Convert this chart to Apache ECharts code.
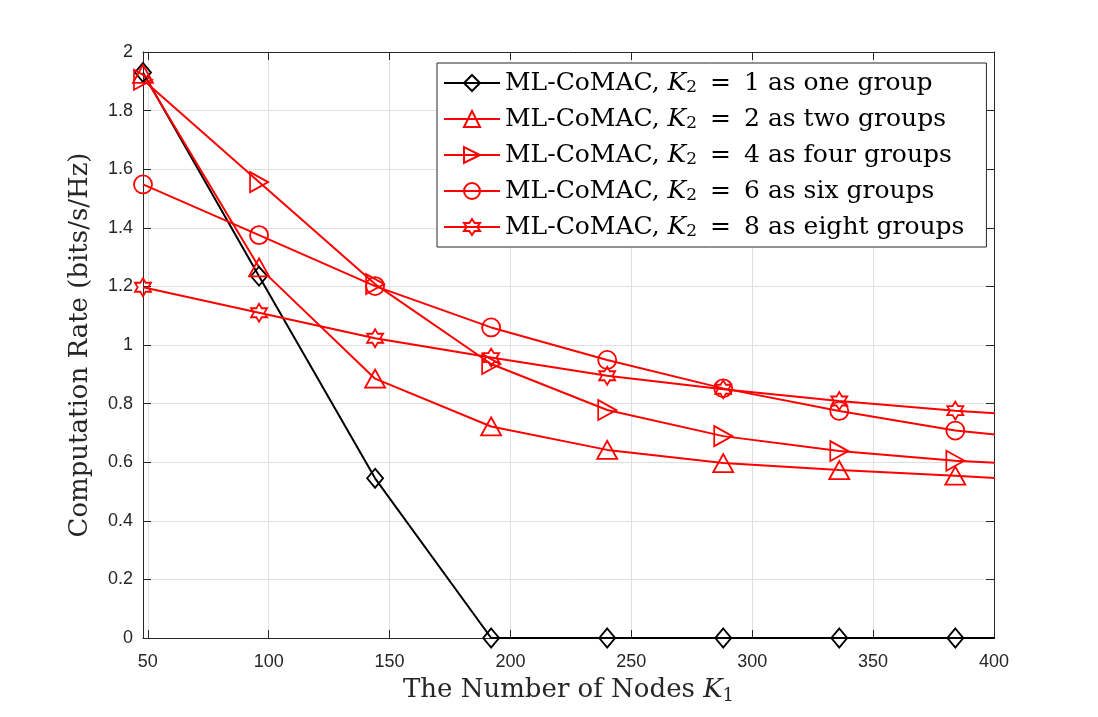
<!DOCTYPE html>
<html>
<head>
<meta charset="utf-8">
<script src="https://cdn.jsdelivr.net/npm/echarts@6/dist/echarts.min.js"></script>
<style>
html,body{margin:0;padding:0;background:#fff;}
#chart{width:1098px;height:717px;}
</style>
</head>
<body>
<div id="chart"></div>
<script>
// Data
const nodesK1 = [48, 96, 144, 192, 240, 288, 336, 384, 432];
const rateK2_1 = [1.93, 1.235, 0.545, 0, 0, 0, 0, 0, 0];
const rateK2_2 = [1.925, 1.265, 0.885, 0.722, 0.642, 0.597, 0.573, 0.554, 0.53];
const rateK2_4 = [1.905, 1.556, 1.208, 0.935, 0.778, 0.689, 0.638, 0.605, 0.584];
const rateK2_6 = [1.548, 1.375, 1.201, 1.06, 0.949, 0.852, 0.775, 0.708, 0.669];
const rateK2_8 = [1.197, 1.11, 1.023, 0.957, 0.895, 0.849, 0.809, 0.776, 0.749];
const xTickValues = [50, 100, 150, 200, 250, 300, 350, 400];
const seriesNames = [
  'ML-CoMAC, {i|K}{sub|2}{eq|=}1 as one group',
  'ML-CoMAC, {i|K}{sub|2}{eq|=}2 as two groups',
  'ML-CoMAC, {i|K}{sub|2}{eq|=}4 as four groups',
  'ML-CoMAC, {i|K}{sub|2}{eq|=}6 as six groups',
  'ML-CoMAC, {i|K}{sub|2}{eq|=}8 as eight groups'
];
const legendLabels = [
  'ML-CoMAC, K2 = 1 as one group',
  'ML-CoMAC, K2 = 2 as two groups',
  'ML-CoMAC, K2 = 4 as four groups',
  'ML-CoMAC, K2 = 6 as six groups',
  'ML-CoMAC, K2 = 8 as eight groups'
];

const hexagram = 'path://M50,0 L35.6,25 L6.7,25 L21.1,50 L6.7,75 L35.6,75 L50,100 L64.4,75 L93.3,75 L78.9,50 L93.3,25 L64.4,25 Z';
const AX = '#262626';
const serif = '"DejaVu Serif", "Liberation Serif", serif';
const sans = '"Liberation Sans", Arial, sans-serif';

function pairs(ys){ return nodesK1.map((x,i)=>[x, ys[i]]); }

function mkSeries(idx, ys, color, symbol, size, rotate){
  return {
    name: legendLabels[idx],
    type: 'line',
    data: pairs(ys),
    symbol: symbol,
    symbolSize: size,
    symbolRotate: rotate || 0,
    showAllSymbol: true,
    clip: true,
    lineStyle: {color: color, width: 2},
    itemStyle: {color: 'rgba(255,255,255,0)', borderColor: color, borderWidth: 1.8},
    emphasis: {disabled: true},
    animation: false
  };
}

const chart = echarts.init(document.getElementById('chart'), null, {renderer: 'canvas'});
const option = {
  backgroundColor: '#ffffff',
  animation: false,
  grid: {left: 143, right: 104, top: 52, bottom: 79, containLabel: false},
  legend: {
    orient: 'vertical',
    left: 437, top: 63,
    padding: [7, 22, 7, 6],
    backgroundColor: '#ffffff',
    borderColor: '#262626',
    borderWidth: 1,
    itemWidth: 56, itemHeight: 20, itemGap: 10,
    inactiveColor: '#000',
    selectedMode: false,
    data: legendLabels,
    lineStyle: {width: 2},
    formatter: function(name){ return seriesNames[legendLabels.indexOf(name)]; },
    textStyle: {
      fontFamily: serif, fontSize: 25, color: '#000', lineHeight: 26,
      rich: {
        i: {fontFamily: serif, fontStyle: 'italic', fontSize: 25, color: '#000', lineHeight: 26},
        sub: {fontFamily: serif, fontSize: 17, color: '#000', verticalAlign: 'bottom', lineHeight: 18, padding: [8,0,0,0]},
        eq: {fontFamily: serif, fontSize: 25, color: '#000', lineHeight: 26, padding: [0, 13, 0, 13]}
      }
    }
  },
  xAxis: [{
    type: 'value', min: 48, max: 400, position: 'bottom',
    name: 'The Number of Nodes {i|K}{sub|1}',
    nameLocation: 'middle', nameGap: 37,
    nameTextStyle: {fontFamily: serif, fontSize: 26, color: '#262626',
      rich: {i: {fontFamily: serif, fontStyle: 'italic', fontSize: 26, color: '#262626'},
             sub: {fontFamily: serif, fontSize: 18, color: '#262626', padding: [12,0,0,0]}}},
    axisLine: {show: true, onZero: false, lineStyle: {color: AX, width: 1}},
    axisTick: {show: true, inside: true, length: 8, customValues: xTickValues, lineStyle: {color: AX}},
    axisLabel: {customValues: xTickValues, fontFamily: sans, fontSize: 18, color: AX, margin: 15},
    splitLine: {show: true, lineStyle: {color: '#dfdfdf', width: 1}}
  }, {
    type: 'value', min: 48, max: 400, position: 'top',
    axisLine: {show: true, onZero: false, lineStyle: {color: AX, width: 1}},
    axisTick: {show: true, inside: true, length: 8, customValues: xTickValues, lineStyle: {color: AX}},
    axisLabel: {show: false},
    splitLine: {show: false}
  }],
  yAxis: [{
    type: 'value', min: 0, max: 2, interval: 0.2, position: 'left',
    name: 'Computation Rate (bits/s/Hz)',
    nameLocation: 'middle', nameGap: 50,
    nameTextStyle: {fontFamily: serif, fontSize: 26, color: '#262626'},
    axisLine: {show: true, onZero: false, lineStyle: {color: AX, width: 1}},
    axisTick: {show: true, inside: true, length: 8, lineStyle: {color: AX}},
    axisLabel: {fontFamily: sans, fontSize: 18, color: AX, margin: 10},
    splitLine: {show: true, lineStyle: {color: '#dfdfdf', width: 1}}
  }, {
    type: 'value', min: 0, max: 2, interval: 0.2, position: 'right',
    axisLine: {show: true, onZero: false, lineStyle: {color: AX, width: 1}},
    axisTick: {show: true, inside: true, length: 8, lineStyle: {color: AX}},
    axisLabel: {show: false},
    splitLine: {show: false}
  }],
  series: [
    mkSeries(0, rateK2_1, '#000000', 'diamond', [16, 19]),
    mkSeries(1, rateK2_2, '#ff0000', 'triangle', [20, 18]),
    mkSeries(2, rateK2_4, '#ff0000', 'triangle', [20, 18], -90),
    mkSeries(3, rateK2_6, '#ff0000', 'circle', 18),
    mkSeries(4, rateK2_8, '#ff0000', hexagram, [16, 18])
  ]
};
chart.setOption(option);
</script>
</body>
</html>
